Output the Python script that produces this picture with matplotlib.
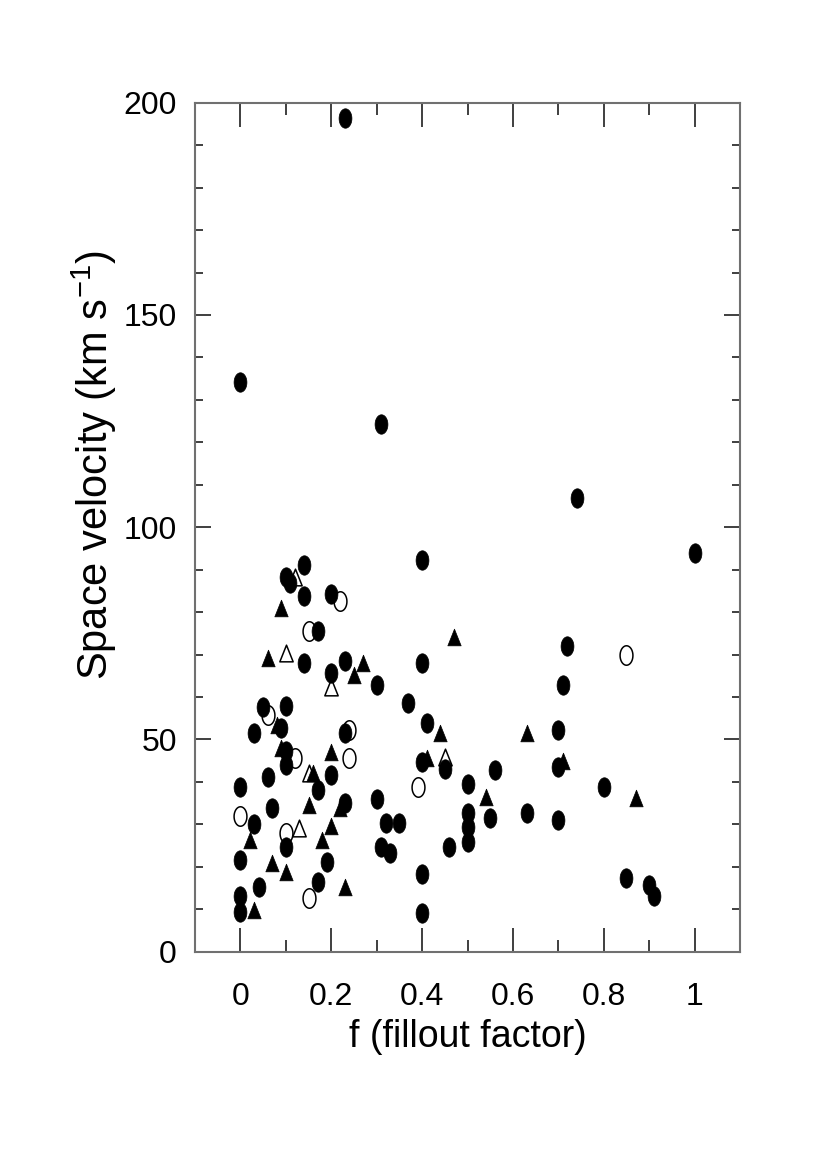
import numpy as np
import matplotlib
matplotlib.use("Agg")
import matplotlib.pyplot as plt
from matplotlib.path import Path
from matplotlib.ticker import MultipleLocator

plt.rcParams['font.family'] = ['Liberation Sans', 'DejaVu Sans']
plt.rcParams['mathtext.fontset'] = 'custom'
plt.rcParams['mathtext.rm'] = 'Liberation Sans'
plt.rcParams['mathtext.it'] = 'Liberation Sans'

# filled circles
fc_x = [0.23, 0.00, 0.31, 0.74, 1.00, 0.40, 0.14, 0.10, 0.11, 0.14, 0.20, 0.17,
        0.14, 0.23, 0.20, 0.30, 0.05, 0.10, 0.03, 0.09, 0.23, 0.10, 0.10, 0.20,
        0.06, 0.00, 0.17, 0.07, 0.23, 0.30, 0.03, 0.10, 0.00, 0.19, 0.17, 0.04,
        0.00, 0.00, 0.40, 0.72, 0.71, 0.37, 0.41, 0.70, 0.40, 0.45, 0.70, 0.56,
        0.50, 0.32, 0.35, 0.50, 0.50, 0.50, 0.55, 0.63, 0.70, 0.31, 0.33, 0.46,
        0.40, 0.40, 0.80, 0.85, 0.90, 0.91]
fc_y = [196.4, 134.2, 124.3, 106.8, 94.0, 92.3, 91.0, 88.3, 86.8, 83.8, 84.2, 75.6,
        67.9, 68.5, 65.7, 62.8, 57.7, 57.9, 51.6, 52.6, 51.4, 47.3, 44.0, 41.6,
        41.1, 38.7, 38.1, 33.9, 35.0, 35.9, 30.1, 24.6, 21.6, 21.2, 16.5, 15.2,
        13.1, 9.4, 68.1, 72.0, 62.8, 58.7, 53.8, 52.3, 44.6, 43.1, 43.6, 42.8,
        39.4, 30.3, 30.2, 32.6, 29.4, 25.9, 31.6, 32.6, 31.1, 24.7, 23.2, 24.7,
        18.3, 9.2, 38.9, 17.3, 15.7, 13.1]

# filled triangles
ft_x = [0.09, 0.06, 0.27, 0.25, 0.08, 0.09, 0.20, 0.16, 0.15, 0.22, 0.20, 0.02,
        0.18, 0.07, 0.10, 0.23, 0.03, 0.47, 0.44, 0.63, 0.41, 0.71, 0.54, 0.87]
ft_y = [80.9, 69.1, 68.1, 65.2, 53.4, 48.1, 47.0, 42.0, 34.6, 33.8, 29.6, 26.3,
        26.2, 21.0, 18.8, 15.3, 9.8, 74.2, 51.4, 51.6, 45.6, 45.0, 36.5, 36.1]

# open circles
oc_x = [0.22, 0.15, 0.06, 0.24, 0.12, 0.24, 0.00, 0.10, 0.15, 0.39, 0.85]
oc_y = [82.7, 75.6, 55.8, 52.2, 45.6, 45.6, 32.0, 27.9, 12.6, 38.9, 69.9]

# open triangles
ot_x = [0.12, 0.10, 0.20, 0.15, 0.13, 0.45]
ot_y = [88.3, 70.3, 62.4, 42.0, 29.1, 45.9]

# tall ellipse / triangle markers (the original is stretched vertically)
t = np.linspace(0, 2 * np.pi, 60)
ellipse = Path(np.column_stack([0.33 * np.cos(t), 0.5 * np.sin(t)]), closed=True)
tri = Path([(0, 0.5), (-0.4, -0.5), (0.4, -0.5), (0, 0.5)], closed=True)

fig = plt.figure(figsize=(8.27, 11.7), dpi=100)
ax = fig.add_axes([0.2358, 0.1866, 0.659, 0.7256])

ax.plot(oc_x, oc_y, ls='none', marker=ellipse, ms=14, mfc='white', mec='black', mew=1.1)
ax.plot(ot_x, ot_y, ls='none', marker=tri, ms=12, mfc='white', mec='black', mew=1.1)
ax.plot(fc_x, fc_y, ls='none', marker=ellipse, ms=14, mfc='black', mec='black', mew=0.5)
ax.plot(ft_x, ft_y, ls='none', marker=tri, ms=12, mfc='black', mec='black', mew=0.5)

ax.set_xlim(-0.1, 1.1)
ax.set_ylim(0, 200)
ax.xaxis.set_minor_locator(MultipleLocator(0.1))
ax.yaxis.set_major_locator(MultipleLocator(50))
ax.yaxis.set_minor_locator(MultipleLocator(10))
ax.set_xticks([0, 0.2, 0.4, 0.6, 0.8, 1.0])
ax.set_xticklabels(['0', '0.2', '0.4', '0.6', '0.8', '1'])

for s in ax.spines.values():
    s.set_color('#707070')
    s.set_linewidth(1.5)
ax.tick_params(axis='x', which='major', direction='in', length=17, width=1.3,
               color='#303030', top=True, pad=22, labelsize=23)
ax.tick_params(axis='x', which='minor', direction='in', length=8.6, width=1.3,
               color='#303030', top=True)
ax.tick_params(axis='y', which='major', direction='in', length=11.5, width=1.3,
               color='#303030', right=True, pad=13, labelsize=23)
ax.tick_params(axis='y', which='minor', direction='in', length=5.8, width=1.3,
               color='#303030', right=True)

ax.set_xlabel('f (fillout factor)', fontsize=27)
ax.xaxis.set_label_coords(0.5, -0.079)
ax.set_ylabel('Space velocity (km s$^{\\mathregular{-1}}$)', fontsize=30)
ax.yaxis.set_label_coords(-0.14, 0.573)

fig.savefig('out.png', dpi=100)
